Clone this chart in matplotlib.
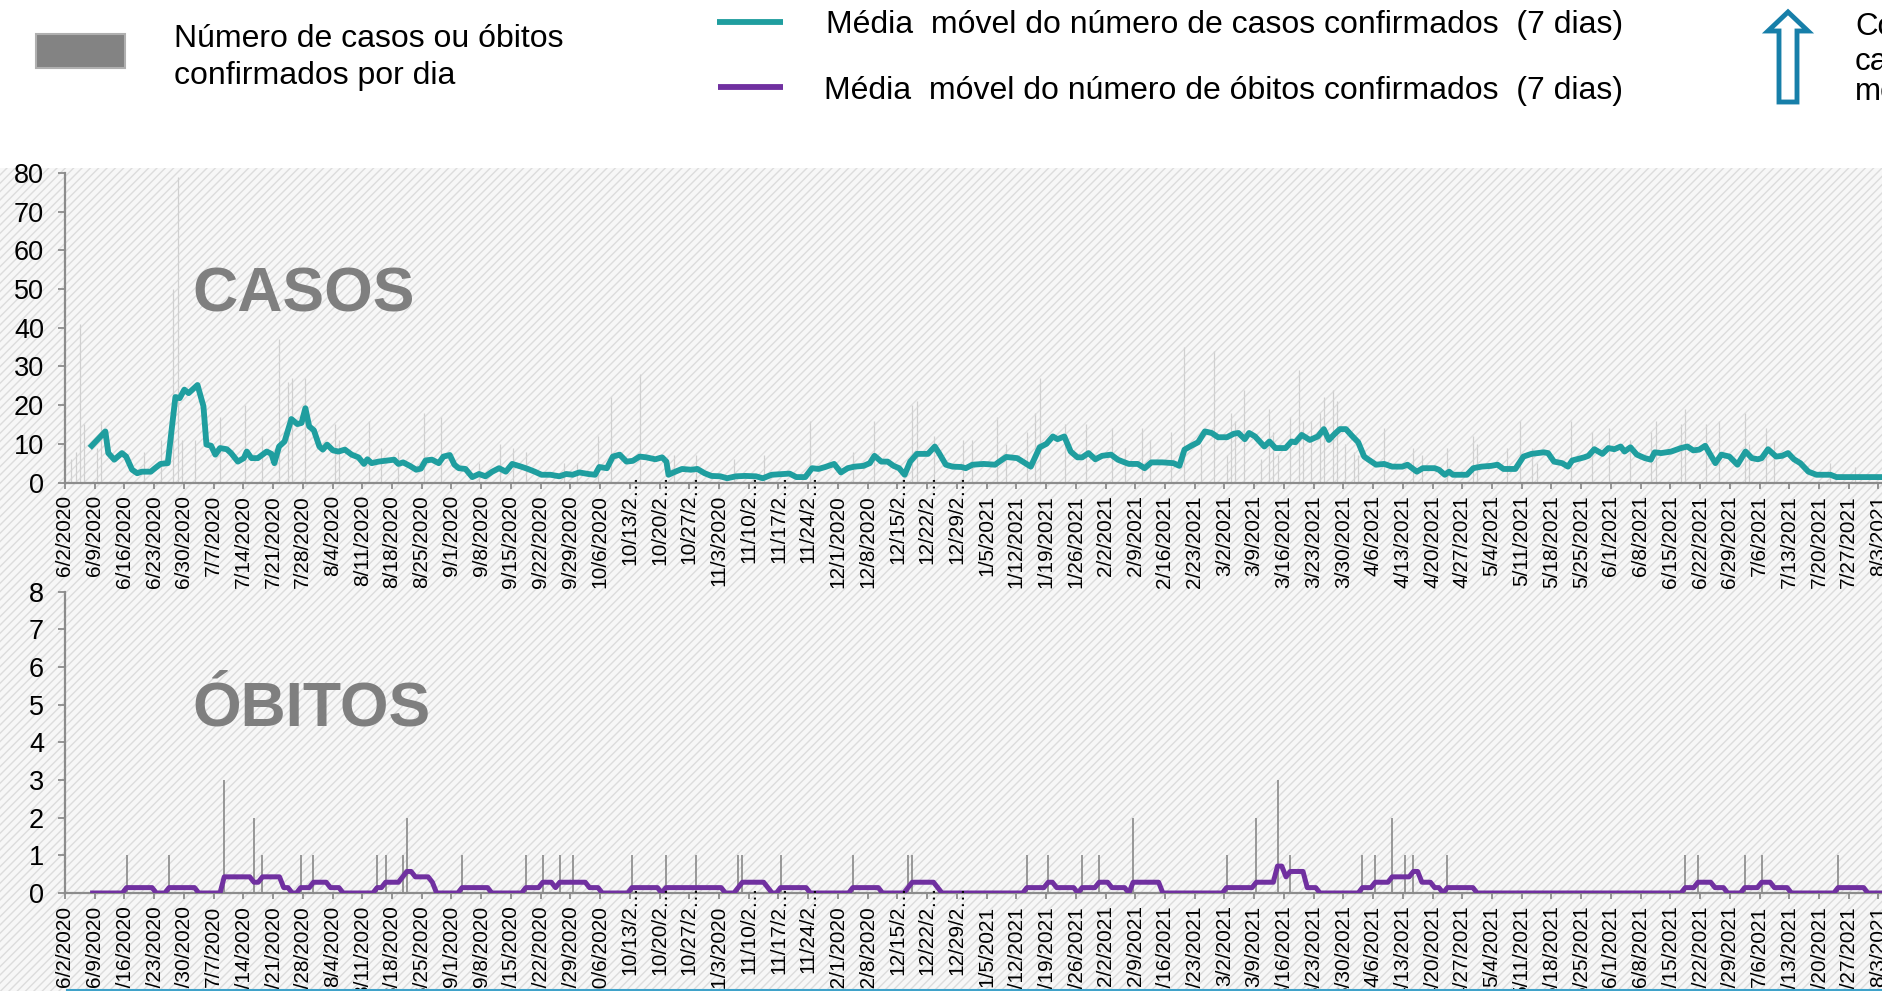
import numpy as np
import pandas as pd
import matplotlib
matplotlib.use("Agg")
import matplotlib.pyplot as plt
from matplotlib.patches import Rectangle, Polygon
from matplotlib.lines import Line2D

plt.rcParams["font.family"] = ["Liberation Sans", "DejaVu Sans"]
plt.rcParams["hatch.linewidth"] = 1.0

inicio = pd.Timestamp("2020-06-02")

# média móvel de casos (dias desde 2/6/2020, valor)
casos_mm_dia = [6.3, 9.5, 10.2, 11.6, 13.4, 14.4, 15.8, 17.0, 18.1, 20.2, 21.2, 22.5, 24.2, 26.0, 27.0,
                28.1, 29.1, 30.2, 31.2, 32.6, 33.3, 34.4, 35.4, 36.5, 38.1, 39.1, 40.7, 42.1, 42.8, 43.9,
                45.4, 46.5, 47.5, 48.6, 49.3, 50.4, 51.7, 53.3, 54.7, 55.7, 56.6, 57.5, 58.6, 59.9, 60.7,
                61.7, 63.1, 64.4, 65.9, 67.5, 69.1, 70.4, 71.2, 72.2, 73.8, 75.9, 77.5, 78.5, 79.6, 81.2,
                82.7, 83.8, 84.9, 86.4, 88.0, 89.1, 90.6, 91.7, 92.7, 94.3, 95.9, 97.5, 99.0, 100.6, 102.2,
                103.8, 105.3, 107.4, 109.0, 110.6, 112.2, 114.3, 116.4, 118.0, 119.5, 121.1, 123.2, 124.8,
                125.8, 127.6, 129.0, 130.6, 132.2, 133.7, 135.3, 136.9, 139.0, 140.6, 141.6, 142.1, 143.7,
                145.3, 147.4, 148.9, 150.6, 152.2, 154.3, 155.9, 158.0, 160.1, 162.7, 164.3, 166.4, 169.0,
                170.6, 172.2, 174.3, 175.9, 177.4, 179.0, 181.1, 182.7, 184.3, 185.9, 188.0, 189.5, 190.6,
                192.2, 193.7, 195.1, 196.4, 197.7, 199.0, 200.6, 203.2, 204.8, 205.8, 207.4, 209.0, 211.1,
                212.1, 213.7, 216.3, 219.0, 220.0, 221.6, 224.2, 225.8, 227.4, 229.5, 231.1, 232.6, 233.7,
                235.3, 236.8, 238.4, 239.5, 241.0, 242.6, 244.2, 246.3, 247.9, 249.5, 250.5, 252.6, 254.2,
                255.8, 258.4, 261.0, 262.4, 263.6, 265.2, 266.8, 268.4, 270.0, 271.5, 273.6, 275.2, 276.3,
                277.8, 278.8, 280.2, 282.4, 283.6, 285.0, 287.4, 288.8, 289.7, 291.2, 293.1, 295.0, 296.4,
                297.6, 299.0, 300.2, 301.6, 303.0, 304.5, 305.9, 306.8, 308.7, 310.6, 312.5, 314.9, 316.1,
                318.3, 319.7, 322.5, 323.5, 324.9, 325.9, 326.8, 330.1, 331.6, 333.5, 335.8, 337.3, 338.7,
                341.5, 343.4, 345.3, 348.2, 349.2, 350.6, 352.5, 353.9, 354.9, 357.7, 358.7, 360.1, 362.0,
                363.4, 364.8, 366.3, 367.2, 368.6, 370.1, 372.0, 373.4, 374.3, 375.8, 378.2, 380.5, 382.0,
                383.4, 384.8, 386.2, 387.2, 388.6, 390.0, 391.9, 393.8, 395.7, 397.2, 398.6, 399.5, 401.0,
                402.9, 404.3, 405.7, 407.1, 408.6, 410.5, 412.4, 415.7, 417.1, 421.4, 428.5]
casos_mm = [9.5, 13.2, 7.6, 5.9, 7.6, 6.7, 3.3, 2.4, 2.8, 2.8, 3.7, 4.8, 5.0, 22.1, 21.8,
            24.0, 23.1, 24.2, 25.2, 19.7, 9.8, 9.5, 7.2, 8.9, 8.6, 7.6, 5.4, 6.3, 8.0, 6.3,
            6.3, 7.2, 8.0, 7.4, 5.0, 9.3, 10.6, 16.4, 15.1, 15.4, 19.2, 14.5, 13.5, 9.3, 8.5,
            9.8, 8.3, 8.0, 8.5, 7.2, 6.5, 4.8, 6.0, 5.0, 5.4, 5.7, 5.9, 4.8, 5.2, 4.3,
            3.3, 3.6, 5.7, 5.9, 5.0, 6.7, 7.1, 4.6, 3.7, 3.5, 1.4, 2.2, 1.6, 2.8, 3.7,
            2.8, 4.8, 4.1, 3.5, 2.8, 2.0, 2.0, 1.6, 2.2, 2.0, 2.6, 2.2, 2.0,
            4.0, 3.7, 6.7, 7.2, 5.4, 5.6, 6.7, 6.5, 6.0, 6.5, 5.4, 2.0, 2.8,
            3.5, 3.3, 3.5, 2.4, 1.7, 1.6, 1.1, 1.6, 1.7, 1.6, 1.1, 2.0, 2.2,
            2.3, 1.4, 1.4, 3.7, 3.5, 4.0, 4.8, 2.6, 3.7, 4.1, 4.3, 5.0, 6.9,
            5.4, 5.4, 4.3, 3.7, 2.0, 5.4, 7.4, 7.4, 9.3, 7.6, 4.6, 4.1, 4.0,
            3.7, 4.6, 4.8, 4.6, 5.4, 6.6, 6.3, 5.2, 4.1, 9.1, 10.0, 11.9, 11.2,
            11.9, 8.0, 6.5, 6.5, 7.6, 6.0, 6.9, 7.2, 5.9, 5.2, 4.8, 4.8, 3.7,
            5.2, 5.2, 5.0, 4.3, 8.5, 9.5, 10.4, 13.2, 12.8, 11.7, 11.7, 12.6, 12.8,
            11.2, 12.8, 11.9, 9.3, 10.6, 8.9, 8.9, 10.6, 10.4, 12.3, 11.0, 11.9, 13.8,
            11.0, 12.6, 13.8, 13.8, 12.1, 10.4, 6.7, 6.0, 4.6, 4.8, 4.1, 4.1, 4.6,
            2.8, 3.7, 3.7, 3.3, 2.0, 2.8, 2.0, 2.0, 3.7, 4.1, 4.3, 4.6, 3.5,
            3.5, 6.7, 7.4, 7.8, 7.6, 5.4, 5.0, 4.1, 5.7, 6.5, 6.9, 8.6, 7.4,
            8.9, 8.6, 9.3, 8.0, 9.1, 7.2, 6.3, 5.9, 7.8, 7.6, 8.0, 8.9, 9.3,
            8.3, 8.5, 9.5, 7.6, 5.0, 7.2, 6.7, 4.6, 8.0, 6.3, 6.0, 6.3, 8.6,
            6.7, 6.9, 7.6, 6.0, 5.0, 2.8, 2.0, 2.0, 1.4, 1.4, 1.4]

# casos confirmados por dia (dia, número)
casos_dia = [1, 2, 3, 4, 7, 8, 18, 22, 25, 26, 27, 30, 36, 42, 46, 50, 52, 53, 56, 63, 64, 71, 74, 78,
             84, 88, 97, 102, 105, 108, 117, 120, 125, 128, 135, 143, 148, 157, 164, 175, 185, 190,
             199, 200, 204, 211, 213, 219, 221, 226, 228, 229, 235, 240, 246, 249, 253, 255, 260,
             263, 267, 270, 273, 274, 275, 277, 281, 283, 284, 285, 288, 290, 291, 293, 295, 296,
             298, 299, 301, 303, 304, 310, 317, 319, 325, 331, 332, 339, 342, 345, 346, 354, 359,
             363, 368, 373, 374, 380, 381, 386, 389, 395, 396, 400, 402, 415, 421]
casos_n = [6, 8, 41, 15, 9, 16, 8, 11, 50, 79, 11, 11, 17, 20, 12, 37, 26, 27, 27, 15, 11, 16, 9, 8,
           18, 17, 5, 10, 9, 8, 5, 5, 12, 22, 28, 7, 7, 6, 7, 16, 8, 16,
           20, 21, 12, 11, 11, 17, 10, 13, 18, 27, 15, 15, 14, 9, 14, 11, 13,
           35, 10, 34, 7, 18, 16, 24, 6, 19, 13, 7, 17, 29, 16, 16, 18, 22,
           24, 21, 10, 8, 7, 14, 9, 7, 9, 12, 10, 9, 16, 9, 5, 16, 13,
           14, 11, 13, 16, 15, 19, 15, 16, 18, 10, 14, 11, 5, 4]

# óbitos confirmados por dia (dia, número)
obitos_dia = [14, 24, 37, 44, 46, 55, 58, 73, 75, 79, 80, 93, 108, 112, 116, 119, 133, 141, 148, 158,
              159, 168, 185, 198, 199, 226, 231, 239, 243, 251, 273, 280, 285, 288, 305, 308, 312,
              315, 317, 325, 381, 384, 395, 399, 417]
obitos_n = [1, 1, 3, 2, 1, 1, 1, 1, 1, 1, 2, 1, 1, 1, 1, 1, 1, 1, 1, 1,
            1, 1, 1, 1, 1, 1, 1, 1, 1, 2, 1, 2, 3, 1, 1, 1, 2,
            1, 1, 1, 1, 1, 1, 1, 1]
n_dias = 430

semanas = pd.date_range(inicio, periods=63, freq="7D")
rotulos = [f"{d.month}/{d.day}/{d.year}" for d in semanas]
pos_semanas = [(d - inicio).days for d in semanas]

teal = "#1f9e9f"
roxo = "#7030a0"
cinza_eixo = "#8c8c8c"

W, H = 1883, 991
fig = plt.figure(figsize=(W / 100, H / 100), dpi=100)


def fx(px):
    return px / W


def fy(py):
    return 1 - py / H


hatch_kw = dict(transform=fig.transFigure, facecolor="#f7f7f7", edgecolor="#dcdcdc",
                hatch="////", lw=0)
fig.patches.append(Rectangle((0, 0), 1, fy(168), zorder=0, **hatch_kw))
fig.patches.append(Rectangle((0, 0), 1, fy(591), zorder=2, **hatch_kw))

px_dia = 4.247
x0 = 65
xmax = 440
larg = xmax * px_dia / W

ax1 = fig.add_axes([fx(x0), fy(482.5), larg, (482.5 - 173) / H], zorder=1)
ax2 = fig.add_axes([fx(x0), fy(893), larg, (893 - 591.5) / H], zorder=3)

obitos = np.zeros(n_dias)
obitos[obitos_dia] = obitos_n
obitos_mm = pd.Series(obitos).rolling(7).mean()

ax1.vlines(np.array(casos_dia) + 0.5, 0, casos_n, colors="#d0d0d0", lw=0.9, zorder=1)
ax1.plot(casos_mm_dia, casos_mm, color=teal, lw=4.2, solid_joinstyle="round", zorder=3)

ax2.vlines(np.array(obitos_dia) + 0.5, 0, obitos_n, colors="#808080", lw=1.1, zorder=1)
ax2.plot(np.arange(n_dias) + 0.5, obitos_mm, color=roxo, lw=3.6, solid_joinstyle="round", zorder=3)

ax1.set_ylim(0, 80)
ax1.set_yticks(range(0, 81, 10))
ax2.set_ylim(0, 8)
ax2.set_yticks(range(0, 9))

tl, tp = 4.5, 4.5
for ax in (ax1, ax2):
    ax.set_facecolor("none")
    ax.set_xlim(0, xmax)
    for s in ("top", "right"):
        ax.spines[s].set_visible(False)
    for s in ("left", "bottom"):
        ax.spines[s].set_color(cinza_eixo)
        ax.spines[s].set_linewidth(1.6)
    ax.tick_params(axis="y", length=5, width=1.3, color=cinza_eixo, labelsize=19.5, pad=10)
    ax.tick_params(axis="x", length=tl, width=1.3, color=cinza_eixo, labelsize=15, pad=tp)
    ax.set_xticks(pos_semanas)
    curtos = [r if len(r) <= 9 else r[:7] for r in rotulos]
    ax.set_xticklabels(curtos, rotation=90, va="top", ha="center")
    for p, r in zip(pos_semanas, rotulos):
        if len(r) > 9:
            ax.annotate("\u2026", xy=(p, 0), xycoords=("data", "axes fraction"),
                        xytext=(0, -(tl + tp)), textcoords="offset points",
                        rotation=90, ha="center", va="bottom", fontsize=15,
                        annotation_clip=False)

fig.text(fx(192), fy(312), "CASOS", fontsize=45, fontweight="bold", color="#7f7f7f",
         va="baseline", zorder=4)
fig.text(fx(192), fy(725), "ÓBITOS", fontsize=45, fontweight="bold", color="#7f7f7f",
         va="baseline", zorder=5)

# legenda
fig.patches.append(Rectangle((fx(36), fy(68)), fx(125) - fx(36), (68 - 34) / H,
                             transform=fig.transFigure, facecolor="#838383",
                             edgecolor="#b0b0b0", lw=1.5))
fig.text(fx(174), fy(47), "Número de casos ou óbitos", fontsize=23, va="baseline")
fig.text(fx(174), fy(84), "confirmados por dia", fontsize=23, va="baseline")

fig.add_artist(Line2D([fx(717), fx(783)], [fy(22)] * 2, transform=fig.transFigure,
                      color=teal, lw=4.2, solid_capstyle="butt"))
fig.text(fx(826), fy(33), "Média  móvel do número de casos confirmados  (7 dias)",
         fontsize=23, va="baseline")
fig.add_artist(Line2D([fx(718), fx(783)], [fy(86.5)] * 2, transform=fig.transFigure,
                      color=roxo, lw=4.2, solid_capstyle="butt"))
fig.text(fx(824), fy(99), "Média  móvel do número de óbitos confirmados  (7 dias)",
         fontsize=23, va="baseline")

seta = [(1788, 12), (1808, 31), (1797, 31), (1797, 102), (1779, 102), (1779, 31), (1768, 31)]
fig.patches.append(Polygon([(fx(a), fy(b)) for a, b in seta], closed=True,
                           transform=fig.transFigure, facecolor="white",
                           edgecolor="#177fa9", lw=3.5, joinstyle="miter"))
for txt, yb in (("Co", 35), ("ca", 70), ("me", 100)):
    fig.text(fx(1855), fy(yb), txt, fontsize=22.5, va="baseline")

fig.add_artist(Line2D([fx(67), 1], [fy(989.5)] * 2, transform=fig.transFigure,
                      color="#3fa2c9", lw=1.5, zorder=10))

fig.savefig("out.png", dpi=100)
